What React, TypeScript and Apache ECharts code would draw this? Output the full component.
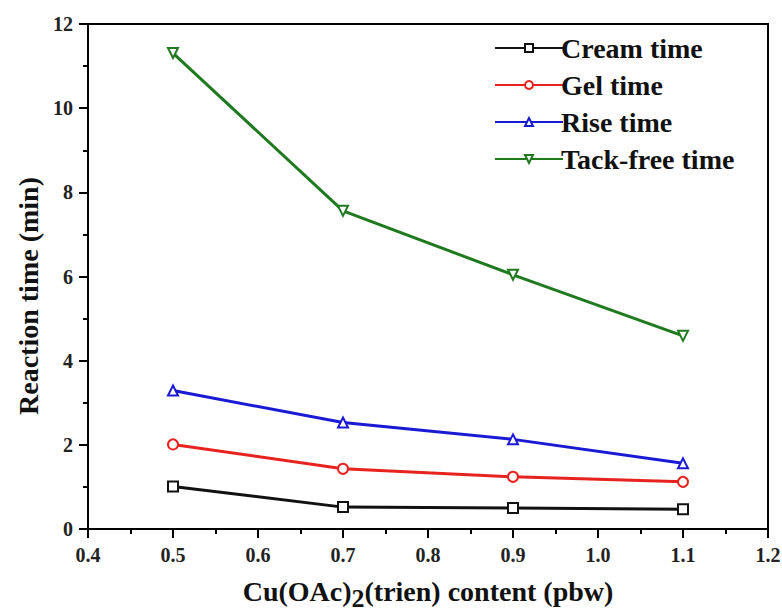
import React, { useEffect, useRef } from "react";
import * as echarts from "echarts";

const xValues = [0.5, 0.7, 0.9, 1.1];
const creamTime = [1.01, 0.52, 0.5, 0.47];
const gelTime = [2.01, 1.43, 1.24, 1.12];
const riseTime = [3.29, 2.53, 2.13, 1.56];
const tackFreeTime = [11.31, 7.56, 6.04, 4.59];
const seriesNames = ["Cream time", "Gel time", "Rise time", "Tack-free time"];
const seriesColors = ["#111111", "#e8231f", "#1a1ad6", "#1f7a1f"];

const FONT = "Liberation Serif";

export default function App() {
  const ref = useRef<HTMLDivElement>(null);
  useEffect(() => {
    if (!ref.current) return;
    const chart = echarts.init(ref.current, null, { renderer: "svg" });
    const allData = [creamTime, gelTime, riseTime, tackFreeTime];
    const symbols = ["emptyRect", "emptyCircle", "emptyTriangle", "emptyTriangle"];
    const rotations = [0, 0, 0, 180];
    const series = allData.map((vals, i) => ({
      name: seriesNames[i],
      type: "line",
      data: xValues.map((x, j) => [x, vals[j]]),
      symbol: symbols[i],
      symbolSize: 10,
      symbolRotate: rotations[i],
      lineStyle: { color: seriesColors[i], width: 3 },
      itemStyle: { color: seriesColors[i], borderColor: seriesColors[i], borderWidth: 1.2 },
      z: 3 + i,
    }));
    chart.setOption({
      animation: false,
      backgroundColor: "#ffffff",
      textStyle: { fontFamily: FONT },
      grid: {
        left: 88,
        right: 14,
        top: 24,
        bottom: 84,
        outerBoundsMode: "none",
        containLabel: false,
        show: true,
        borderColor: "#000",
        borderWidth: 2,
        backgroundColor: "transparent",
      },
      legend: {
        show: true,
        orient: "vertical",
        left: 489,
        top: 29,
        itemWidth: 68,
        itemHeight: 10,
        itemGap: 9,
        data: seriesNames,
        textStyle: {
          fontFamily: FONT,
          fontWeight: "bold",
          fontSize: 28,
          color: "#111",
          padding: [0, 0, 0, -7],
        },
      },
      xAxis: {
        type: "value",
        min: 0.4,
        max: 1.2,
        interval: 0.1,
        name: "{a|Cu(OAc)}{s|2}{a|(trien) content (pbw)}",
        nameLocation: "middle",
        nameGap: 43,
        nameTextStyle: {
          rich: {
            a: { fontFamily: FONT, fontWeight: "bold", fontSize: 28, color: "#111" },
            s: { fontFamily: FONT, fontWeight: "bold", fontSize: 26, color: "#111", padding: [13, 0, 0, 0] },
          },
        },
        axisLine: { show: true, lineStyle: { color: "#000", width: 2 } },
        axisTick: { show: true, inside: false, length: 9, lineStyle: { color: "#000", width: 2 } },
        minorTick: { show: true, splitNumber: 2, length: 5, lineStyle: { color: "#000", width: 2 } },
        splitLine: { show: false },
        axisLabel: {
          fontFamily: FONT,
          fontWeight: "bold",
          fontSize: 20,
          color: "#222",
          margin: 16,
          formatter: (v: number) => v.toFixed(1),
        },
      },
      yAxis: {
        type: "value",
        min: 0,
        max: 12,
        interval: 2,
        axisLine: { show: true, lineStyle: { color: "#000", width: 2 } },
        axisTick: { show: true, inside: false, length: 9, lineStyle: { color: "#000", width: 2 } },
        minorTick: { show: true, splitNumber: 2, length: 5, lineStyle: { color: "#000", width: 2 } },
        splitLine: { show: false },
        axisLabel: {
          fontFamily: FONT,
          fontWeight: "bold",
          fontSize: 20,
          color: "#222",
          margin: 15,
        },
      },
      graphic: [
        {
          type: "text",
          x: 28,
          y: 296,
          rotation: Math.PI / 2,
          style: {
            text: "Reaction time (min)",
            fontFamily: FONT,
            fontWeight: "bold",
            fontSize: 28,
            fill: "#111",
            align: "center",
            verticalAlign: "middle",
          },
        },
      ],
      series,
    });
    return () => chart.dispose();
  }, []);
  return (
    <div
      ref={ref}
      style={{ position: "fixed", left: 0, top: 0, width: 782, height: 613, background: "#fff" }}
    />
  );
}
